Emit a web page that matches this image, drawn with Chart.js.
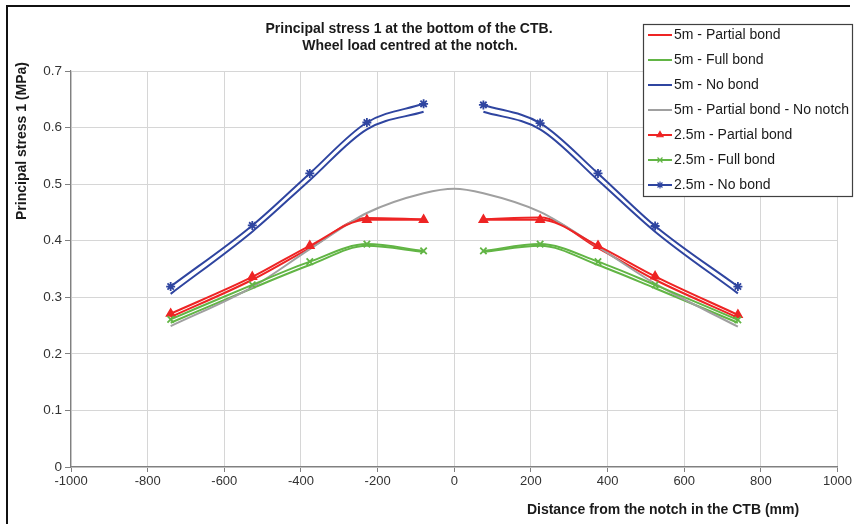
<!DOCTYPE html>
<html>
<head>
<meta charset="utf-8">
<script src="https://cdn.jsdelivr.net/npm/chart.js@4/dist/chart.umd.min.js"></script>
<style>
  html, body { margin: 0; padding: 0; background: #fff; }
  #wrap { width: 854px; height: 524px; position: relative; }
</style>
</head>
<body>
<div id="wrap"><canvas id="stress" width="854" height="524"></canvas></div>
<script>
// distance from notch (mm), left and right of the notch; index 5 is the notch itself
const distances = [-740, -527, -377, -228, -80, 0, 76, 224, 375, 524, 740];

// principal stress 1 (MPa); null = gap at the notch
const partial5m = [0.265, 0.331, 0.387, 0.440, 0.438, null, 0.438, 0.441, 0.387, 0.331, 0.264];
const full5m = [0.255, 0.316, 0.357, 0.391, 0.380, null, 0.380, 0.391, 0.357, 0.316, 0.255];
const noBond5m = [0.306, 0.416, 0.507, 0.597, 0.628, null, 0.628, 0.597, 0.507, 0.416, 0.307];
const noNotch5m = [0.249, 0.318, 0.385, 0.449, 0.484, 0.492, 0.484, 0.451, 0.389, 0.324, 0.248];
const partial25m = [0.271, 0.336, 0.391, 0.437, 0.437, null, 0.437, 0.437, 0.391, 0.337, 0.269];
const full25m = [0.261, 0.322, 0.363, 0.394, 0.382, null, 0.382, 0.394, 0.363, 0.322, 0.260];
const noBond25m = [0.319, 0.427, 0.519, 0.609, 0.642, null, 0.640, 0.608, 0.519, 0.426, 0.319];

const seriesLabels = [
    '5m - Partial bond', '5m - Full bond', '5m - No bond', '5m - Partial bond - No notch',
    '2.5m - Partial bond', '2.5m - Full bond', '2.5m - No bond'
];
const seriesValues = [partial5m, full5m, noBond5m, noNotch5m, partial25m, full25m, noBond25m];
const seriesColors = ['#ee2424', '#62b545', '#2f45a0', '#a0a0a0', '#ee2424', '#62b545', '#2f45a0'];
const seriesMarkers = [false, false, false, false, 'triangle', 'crossRot', 'star'];

const xTicks = { min: -1000, max: 1000, step: 200 };
const yTicks = { min: 0, max: 0.7, step: 0.1 };

const titleLines = ['Principal stress 1 at the bottom of the CTB.', 'Wheel load centred at the notch.'];
const xTitle = 'Distance from the notch in the CTB (mm)';
const yTitle = 'Principal stress 1 (MPa)';

const datasets = seriesValues.map((vals, i) => ({
    label: seriesLabels[i],
    data: distances.map((d, j) => ({ x: d, y: vals[j] })),
    borderColor: seriesColors[i],
    backgroundColor: seriesColors[i],
    borderWidth: 2,
    pointStyle: seriesMarkers[i] || 'circle',
    pointRadius: seriesMarkers[i] ? 4.5 : 0,
    pointBorderWidth: 1.8,
    cubicInterpolationMode: 'monotone',
    spanGaps: false,
    order: 7 - i
}));

// titles, frame and legend drawn at the positions they have in the original figure
const decorations = {
    id: 'decorations',
    beforeDraw(chart) {
        const ctx = chart.ctx;
        ctx.save();
        ctx.fillStyle = '#fff';
        ctx.fillRect(0, 0, chart.width, chart.height);
        ctx.strokeStyle = '#111';
        ctx.lineWidth = 2;
        ctx.beginPath();
        ctx.moveTo(7, chart.height);
        ctx.lineTo(7, 6);
        ctx.lineTo(850, 6);
        ctx.stroke();
        ctx.restore();
    },
    afterDraw(chart) {
        const ctx = chart.ctx;
        ctx.save();
        ctx.fillStyle = '#1a1a1a';
        ctx.font = 'bold 14px "Liberation Sans", Arial, sans-serif';
        ctx.textAlign = 'center';
        ctx.textBaseline = 'middle';
        ctx.fillText(titleLines[0], 409, 29);
        ctx.fillText(titleLines[1], 410, 46);
        ctx.fillText(xTitle, 663, 510);
        ctx.translate(22, 141);
        ctx.rotate(-Math.PI / 2);
        ctx.fillText(yTitle, 0, 0);
        ctx.restore();

        // legend box
        ctx.save();
        ctx.fillStyle = '#fff';
        ctx.fillRect(643, 24, 210, 173);
        ctx.strokeStyle = '#404040';
        ctx.lineWidth = 1.2;
        ctx.strokeRect(643.5, 24.5, 209, 172);
        ctx.font = '14px "Liberation Sans", Arial, sans-serif';
        ctx.textAlign = 'left';
        ctx.textBaseline = 'middle';
        chart.data.datasets.forEach((ds, i) => {
            const y = 35 + i * 25;
            ctx.strokeStyle = ds.borderColor;
            ctx.lineWidth = 2;
            ctx.beginPath();
            ctx.moveTo(648, y);
            ctx.lineTo(672, y);
            ctx.stroke();
            if (seriesMarkers[i]) {
                ctx.fillStyle = ds.borderColor;
                ctx.lineWidth = 1.2;
                Chart.helpers.drawPoint(ctx, {
                    pointStyle: seriesMarkers[i], radius: 3.5, rotation: 0, borderWidth: 1.2
                }, 660, y);
            }
            ctx.fillStyle = '#1a1a1a';
            ctx.fillText(ds.label, 674, y);
        });
        ctx.restore();
    }
};

new Chart(document.getElementById('stress').getContext('2d'), {
    type: 'line',
    data: { datasets: datasets },
    options: {
        responsive: false,
        animation: false,
        layout: { padding: { top: 71, right: 16, left: 0, bottom: 0 } },
        plugins: {
            legend: { display: false },
            title: { display: false },
            tooltip: { enabled: false }
        },
        scales: {
            x: {
                type: 'linear',
                min: xTicks.min,
                max: xTicks.max,
                afterFit: scale => { scale.height = 57; },
                ticks: {
                    stepSize: xTicks.step,
                    color: '#333',
                    font: { family: '"Liberation Sans Narrow", "Liberation Sans", Arial', size: 13 },
                    padding: 2,
                    maxRotation: 0,
                    callback: v => String(v)
                },
                grid: { color: '#d6d6d6', tickColor: '#808080', tickLength: 5 },
                border: { color: '#808080', width: 1.2 }
            },
            y: {
                min: yTicks.min,
                max: yTicks.max,
                afterFit: scale => { scale.width = 71; },
                ticks: {
                    stepSize: yTicks.step,
                    color: '#333',
                    font: { family: '"Liberation Sans", Arial', size: 13.5 },
                    padding: 3,
                    callback: v => String(Math.round(v * 10) / 10)
                },
                grid: { color: '#d6d6d6', tickColor: '#808080', tickLength: 6 },
                border: { color: '#808080', width: 1.2 }
            }
        }
    },
    plugins: [decorations]
});
</script>
</body>
</html>
